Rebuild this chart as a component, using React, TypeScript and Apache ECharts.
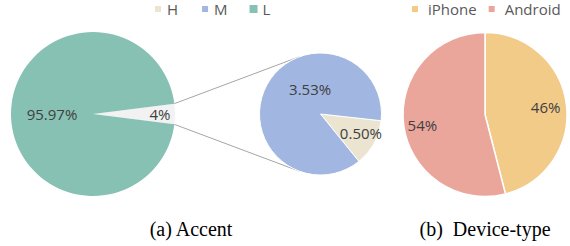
import React, { useEffect, useRef } from "react";
import * as echarts from "echarts";

const accentNames = ["H", "M", "L"];
const accentValues = [0.5, 3.53, 95.97];
const deviceNames = ["iPhone", "Android"];
const deviceValues = [46, 54];

const colors: Record<string, string> = {
  H: "#EAE4D0",
  M: "#A1B6E0",
  L: "#87C1B4",
  other: "#F2F2F2",
  iPhone: "#F2CB89",
  Android: "#EBA69C",
};

const labelFont = "'Open Sans', sans-serif";
const labelColor = "#404040";

export default function App() {
  const ref = useRef<HTMLDivElement>(null);
  useEffect(() => {
    if (!ref.current) return;
    const chart = echarts.init(ref.current, undefined, { renderer: "svg" });

    const hVal = accentValues[0];
    const mVal = accentValues[1];
    const lVal = accentValues[2];
    const otherVal = hVal + mVal;
    const total = otherVal + lVal;

    const c1 = [93, 114];
    const r1 = 82;
    const half = ((otherVal / total) * 360) / 2;
    const c2 = [320.5, 114];
    const r2 = 61;
    const c3 = [485, 114.5];
    const r3 = 82;

    const rad = (d: number) => (d * Math.PI) / 180;
    const tip = (sign: number) => [
      c1[0] + r1 * Math.cos(rad(half)),
      c1[1] - sign * r1 * Math.sin(rad(half)),
    ];
    const tangent = (p: number[], sign: number) => {
      const dx = p[0] - c2[0];
      const dy = -(p[1] - c2[1]);
      const d = Math.sqrt(dx * dx + dy * dy);
      const base = Math.atan2(dy, dx);
      const a = Math.acos(r2 / d);
      const ang = base - sign * a;
      return [c2[0] + r2 * Math.cos(ang), c2[1] - r2 * Math.sin(ang)];
    };
    const tTop = tip(1);
    const tBot = tip(-1);
    const eTop = tangent(tTop, 1);
    const eBot = tangent(tBot, -1);

    const baseLabel = {
      show: true,
      position: "inside",
      fontFamily: labelFont,
      fontSize: 15,
      color: labelColor,
    };

    const legendText = {
      fontFamily: labelFont,
      fontSize: 15,
      lineHeight: 16,
      color: "#595959",
    };

    chart.setOption({
      animation: false,
      legend: [
        {
          data: accentNames,
          orient: "horizontal",
          left: 153,
          top: 1,
          padding: 0,
          width: 300,
          itemWidth: 8,
          itemHeight: 8,
          itemGap: 22,
          icon: "rect",
          selectedMode: false,
          textStyle: legendText,
        },
        {
          data: deviceNames,
          orient: "horizontal",
          left: 410,
          top: 1,
          padding: 0,
          width: 300,
          itemWidth: 8,
          itemHeight: 8,
          itemGap: 10,
          icon: "rect",
          selectedMode: false,
          textStyle: { ...legendText, padding: [0, 0, 0, 4] },
        },
      ],
      graphic: [
        {
          type: "line",
          shape: { x1: tTop[0], y1: tTop[1], x2: eTop[0], y2: eTop[1] },
          style: { stroke: "#A6A6A6", lineWidth: 1 },
          silent: true,
        },
        {
          type: "line",
          shape: { x1: tBot[0], y1: tBot[1], x2: eBot[0], y2: eBot[1] },
          style: { stroke: "#A6A6A6", lineWidth: 1 },
          silent: true,
        },
        {
          type: "text",
          x: 191,
          y: 229,
          style: {
            text: "(a) Accent",
            font: "20px 'Liberation Serif', serif",
            fill: "#000",
            textAlign: "center",
            textVerticalAlign: "middle",
          },
        },
        {
          type: "text",
          x: 485,
          y: 229,
          style: {
            text: "(b)  Device-type",
            font: "20px 'Liberation Serif', serif",
            fill: "#000",
            textAlign: "center",
            textVerticalAlign: "middle",
          },
        },
      ],
      series: [
        {
          type: "pie",
          center: c1,
          radius: r1,
          startAngle: half,
          clockwise: true,
          avoidLabelOverlap: false,
          labelLine: { show: false },
          emphasis: { disabled: true },
          silent: true,
          data: [
            {
              name: "other",
              value: otherVal,
              itemStyle: { color: colors.other },
              label: { ...baseLabel, offset: [23, 0], formatter: () => `${Math.round(otherVal)}%` },
            },
            {
              name: "L",
              value: lVal,
              itemStyle: { color: colors.L },
              label: { ...baseLabel, offset: [3, 0], formatter: () => `${lVal.toFixed(2)}%` },
            },
          ],
        },
        {
          type: "pie",
          center: c2,
          radius: r2,
          startAngle: -6.3,
          clockwise: true,
          avoidLabelOverlap: false,
          labelLine: { show: false },
          emphasis: { disabled: true },
          silent: true,
          itemStyle: { borderColor: "#fff", borderWidth: 1 },
          data: [
            {
              name: "H",
              value: hVal,
              itemStyle: { color: colors.H },
              label: { ...baseLabel, offset: [11, 3], formatter: () => `${hVal.toFixed(2)}%` },
            },
            {
              name: "M",
              value: mVal,
              itemStyle: { color: colors.M },
              label: { ...baseLabel, offset: [19, -9], formatter: () => `${mVal.toFixed(2)}%` },
            },
          ],
        },
        {
          type: "pie",
          center: c3,
          radius: r3,
          startAngle: 90,
          clockwise: true,
          avoidLabelOverlap: false,
          labelLine: { show: false },
          emphasis: { disabled: true },
          silent: true,
          itemStyle: { borderColor: "#fff", borderWidth: 1.5 },
          data: [
            {
              name: "iPhone",
              value: deviceValues[0],
              itemStyle: { color: colors.iPhone },
              label: { ...baseLabel, offset: [17, -2], formatter: () => `${deviceValues[0]}%` },
            },
            {
              name: "Android",
              value: deviceValues[1],
              itemStyle: { color: colors.Android },
              label: { ...baseLabel, offset: [-19, 5], formatter: () => `${deviceValues[1]}%` },
            },
          ],
        },
      ],
    });
    return () => chart.dispose();
  }, []);
  return (
    <div
      ref={ref}
      style={{ position: "fixed", left: 0, top: 0, width: 570, height: 246, background: "#fff" }}
    />
  );
}
